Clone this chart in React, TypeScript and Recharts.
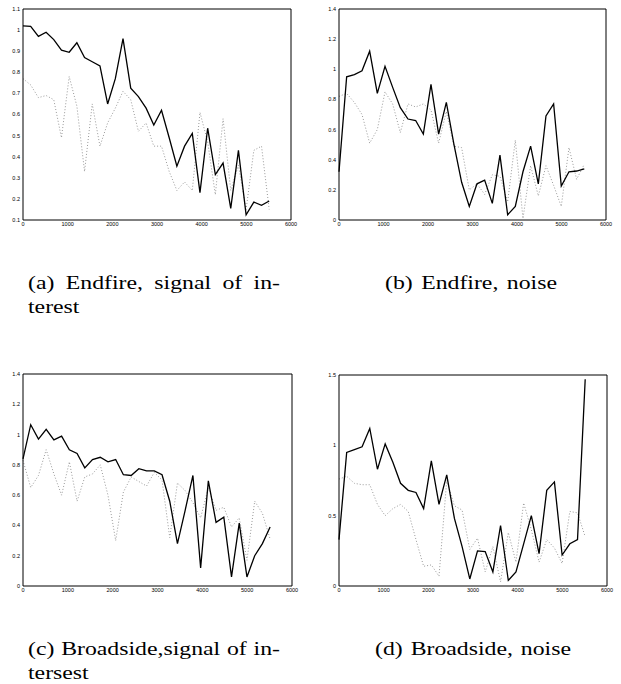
import { Line, LineChart, XAxis, YAxis } from 'recharts'

// frequency bins (Hz)
const freq = [
  0, 172, 345, 517, 689, 861, 1034, 1206, 1378, 1550, 1723, 1895, 2067, 2239, 2412, 2584, 2756,
  2928, 3101, 3273, 3445, 3617, 3790, 3962, 4134, 4306, 4479, 4651, 4823, 4995, 5168, 5340, 5512,
]

// (a) Endfire, signal of interest
const endfireSignalSolid = [
  1.02, 1.018, 0.97, 0.99, 0.955, 0.905, 0.895, 0.94, 0.87, 0.85, 0.83, 0.65, 0.77, 0.96, 0.725,
  0.685, 0.63, 0.55, 0.62, 0.49, 0.355, 0.45, 0.51, 0.23, 0.535, 0.315, 0.37, 0.155, 0.43, 0.125,
  0.185, 0.17, 0.19,
]
const endfireSignalDotted = [
  0.77, 0.74, 0.68, 0.69, 0.67, 0.49, 0.78, 0.64, 0.33, 0.65, 0.45, 0.56, 0.63, 0.71, 0.67, 0.52,
  0.56, 0.45, 0.45, 0.33, 0.24, 0.28, 0.24, 0.61, 0.47, 0.22, 0.58, 0.24, 0.36, 0.15, 0.43, 0.45,
  0.15,
]

// (b) Endfire, noise
const endfireNoiseSolid = [
  0.32, 0.95, 0.965, 0.99, 1.12, 0.84, 1.02, 0.88, 0.745, 0.67, 0.66, 0.57, 0.9, 0.57, 0.78, 0.5,
  0.25, 0.09, 0.24, 0.265, 0.11, 0.43, 0.035, 0.09, 0.32, 0.49, 0.24, 0.69, 0.77, 0.225, 0.32,
  0.325, 0.34,
]
const endfireNoiseDotted = [
  0.82, 0.84, 0.78, 0.7, 0.51, 0.6, 0.85, 0.77, 0.58, 0.77, 0.75, 0.77, 0.73, 0.51, 0.72, 0.49,
  0.48, 0.2, 0.24, 0.17, 0.3, 0.29, 0.12, 0.53, 0.01, 0.36, 0.16, 0.36, 0.23, 0.09, 0.48, 0.27,
  0.37,
]

// (c) Broadside, signal of interest
const broadsideSignalSolid = [
  0.84, 1.065, 0.97, 1.035, 0.965, 0.99, 0.9, 0.875, 0.78, 0.835, 0.85, 0.82, 0.835, 0.735, 0.73,
  0.775, 0.76, 0.76, 0.735, 0.56, 0.28, 0.5, 0.73, 0.12, 0.695, 0.42, 0.455, 0.06, 0.415, 0.06,
  0.2, 0.28, 0.39,
]
const broadsideSignalDotted = [
  0.83, 0.65, 0.73, 0.9, 0.74, 0.6, 0.82, 0.56, 0.72, 0.74, 0.8, 0.6, 0.3, 0.62, 0.72, 0.69, 0.66,
  0.75, 0.7, 0.32, 0.68, 0.63, 0.55, 0.45, 0.65, 0.5, 0.52, 0.39, 0.45, 0.17, 0.56, 0.48, 0.31,
]

// (d) Broadside, noise
const broadsideNoiseSolid = [
  0.33, 0.95, 0.97, 0.99, 1.12, 0.83, 1.01, 0.88, 0.73, 0.68, 0.665, 0.55, 0.89, 0.58, 0.79, 0.48,
  0.28, 0.05, 0.25, 0.245, 0.1, 0.43, 0.04, 0.1, 0.3, 0.5, 0.23, 0.68, 0.74, 0.22, 0.3, 0.33, 1.47,
]
const broadsideNoiseDotted = [
  0.76, 0.78, 0.73, 0.72, 0.72, 0.58, 0.5, 0.55, 0.58, 0.53, 0.33, 0.14, 0.15, 0.07, 0.75, 0.57,
  0.54, 0.26, 0.34, 0.1, 0.28, 0.03, 0.38, 0.17, 0.59, 0.4, 0.17, 0.33, 0.27, 0.16, 0.53, 0.52,
  0.35,
]

const xTicks = [0, 1000, 2000, 3000, 4000, 5000, 6000]
const yTicksA = [0.1, 0.2, 0.3, 0.4, 0.5, 0.6, 0.7, 0.8, 0.9, 1, 1.1]
const yTicksB = [0, 0.2, 0.4, 0.6, 0.8, 1, 1.2, 1.4]
const yTicksD = [0, 0.5, 1, 1.5]

const tickFont = { fontSize: 5.5, fill: '#000', fontFamily: 'Liberation Sans, Arial, sans-serif' }

interface PanelProps {
  solid: number[]
  dotted: number[]
  yTicks: number[]
  left: number
  top: number
  width: number
  height: number
  margin: { top: number; right: number; bottom: number; left: number }
}

function Panel({ solid, dotted, yTicks, left, top, width, height, margin }: PanelProps) {
  const data = freq.map((f, i) => ({ f, solid: solid[i], dotted: dotted[i] }))
  const yDomain = [yTicks[0], yTicks[yTicks.length - 1]]

  return (
    <div style={{ position: 'absolute', left, top }}>
      <LineChart width={width} height={height} data={data} margin={margin}>
        <XAxis
          dataKey='f'
          type='number'
          domain={[0, 6000]}
          ticks={xTicks}
          interval={0}
          tickLine={false}
          tickSize={0}
          tickMargin={2}
          height={12}
          axisLine={{ stroke: '#000' }}
          tick={tickFont}
        />
        {/* inward tick marks, bottom */}
        <XAxis
          xAxisId='bi'
          dataKey='f'
          type='number'
          domain={[0, 6000]}
          ticks={xTicks}
          interval={0}
          orientation='bottom'
          mirror
          tick={false}
          axisLine={false}
          tickSize={3}
          tickLine={{ stroke: '#000' }}
          height={1}
        />
        {/* top frame + ticks */}
        <XAxis
          xAxisId='t'
          dataKey='f'
          type='number'
          domain={[0, 6000]}
          ticks={xTicks}
          interval={0}
          orientation='top'
          mirror
          tick={false}
          axisLine={{ stroke: '#000' }}
          tickSize={3}
          tickLine={{ stroke: '#000' }}
          height={1}
        />
        <YAxis
          type='number'
          domain={yDomain}
          ticks={yTicks}
          interval={0}
          tickLine={false}
          tickSize={0}
          tickMargin={3}
          width={20}
          axisLine={{ stroke: '#000' }}
          tick={tickFont}
          tickFormatter={(v) => `${v}`}
        />
        <YAxis
          yAxisId='li'
          type='number'
          domain={yDomain}
          ticks={yTicks}
          interval={0}
          orientation='left'
          mirror
          tick={false}
          axisLine={false}
          tickSize={3}
          tickLine={{ stroke: '#000' }}
          width={1}
        />
        <YAxis
          yAxisId='r'
          type='number'
          domain={yDomain}
          ticks={yTicks}
          interval={0}
          orientation='right'
          mirror
          tick={false}
          axisLine={{ stroke: '#000' }}
          tickSize={3}
          tickLine={{ stroke: '#000' }}
          width={1}
        />
        <Line
          type='linear'
          dataKey='dotted'
          stroke='#999'
          strokeWidth={1}
          strokeDasharray='1 2'
          dot={false}
          isAnimationActive={false}
        />
        <Line
          type='linear'
          dataKey='solid'
          stroke='#000'
          strokeWidth={1.3}
          dot={false}
          isAnimationActive={false}
        />
      </LineChart>
    </div>
  )
}

const STRETCH = 1.25

const captionBox = {
  position: 'absolute' as const,
  fontFamily: 'Liberation Serif, Times New Roman, serif',
  fontSize: 19,
  lineHeight: '23.5px',
  color: '#000',
  whiteSpace: 'nowrap' as const,
  transform: `scaleX(${STRETCH})`,
  transformOrigin: 'left top',
}

function Caption({ left, top, lines, width }: { left: number; top: number; lines: string[]; width: number }) {
  return (
    <div style={{ ...captionBox, left, top }}>
      <div style={{ width: width / STRETCH, textAlign: 'justify', textAlignLast: 'justify' }}>
        {lines[0]}
      </div>
      {lines[1] && <div>{lines[1]}</div>}
    </div>
  )
}

export default function App() {
  return (
    <div
      style={{
        position: 'absolute',
        left: 0,
        top: 0,
        width: 621,
        height: 684,
        background: '#fff',
        overflow: 'hidden',
      }}
    >
      <Panel
        solid={endfireSignalSolid}
        dotted={endfireSignalDotted}
        yTicks={yTicksA}
        left={0}
        top={0}
        width={310}
        height={235}
        margin={{ top: 9, right: 19, bottom: 3, left: 3 }}
      />
      <Panel
        solid={endfireNoiseSolid}
        dotted={endfireNoiseDotted}
        yTicks={yTicksB}
        left={310}
        top={0}
        width={311}
        height={235}
        margin={{ top: 9, right: 15, bottom: 3, left: 9 }}
      />
      <Panel
        solid={broadsideSignalSolid}
        dotted={broadsideSignalDotted}
        yTicks={yTicksB}
        left={0}
        top={340}
        width={310}
        height={260}
        margin={{ top: 34, right: 18, bottom: 2, left: 3 }}
      />
      <Panel
        solid={broadsideNoiseSolid}
        dotted={broadsideNoiseDotted}
        yTicks={yTicksD}
        left={310}
        top={340}
        width={311}
        height={260}
        margin={{ top: 35, right: 14, bottom: 2, left: 9 }}
      />

      <Caption left={28} top={271} width={252} lines={['(a) Endfire, signal of in-', 'terest']} />
      <Caption left={385} top={271} width={172} lines={['(b) Endfire, noise']} />
      <Caption left={28} top={637} width={252} lines={['(c) Broadside,signal of in-', 'tersest']} />
      <Caption left={375} top={637} width={196} lines={['(d) Broadside, noise']} />
    </div>
  )
}
